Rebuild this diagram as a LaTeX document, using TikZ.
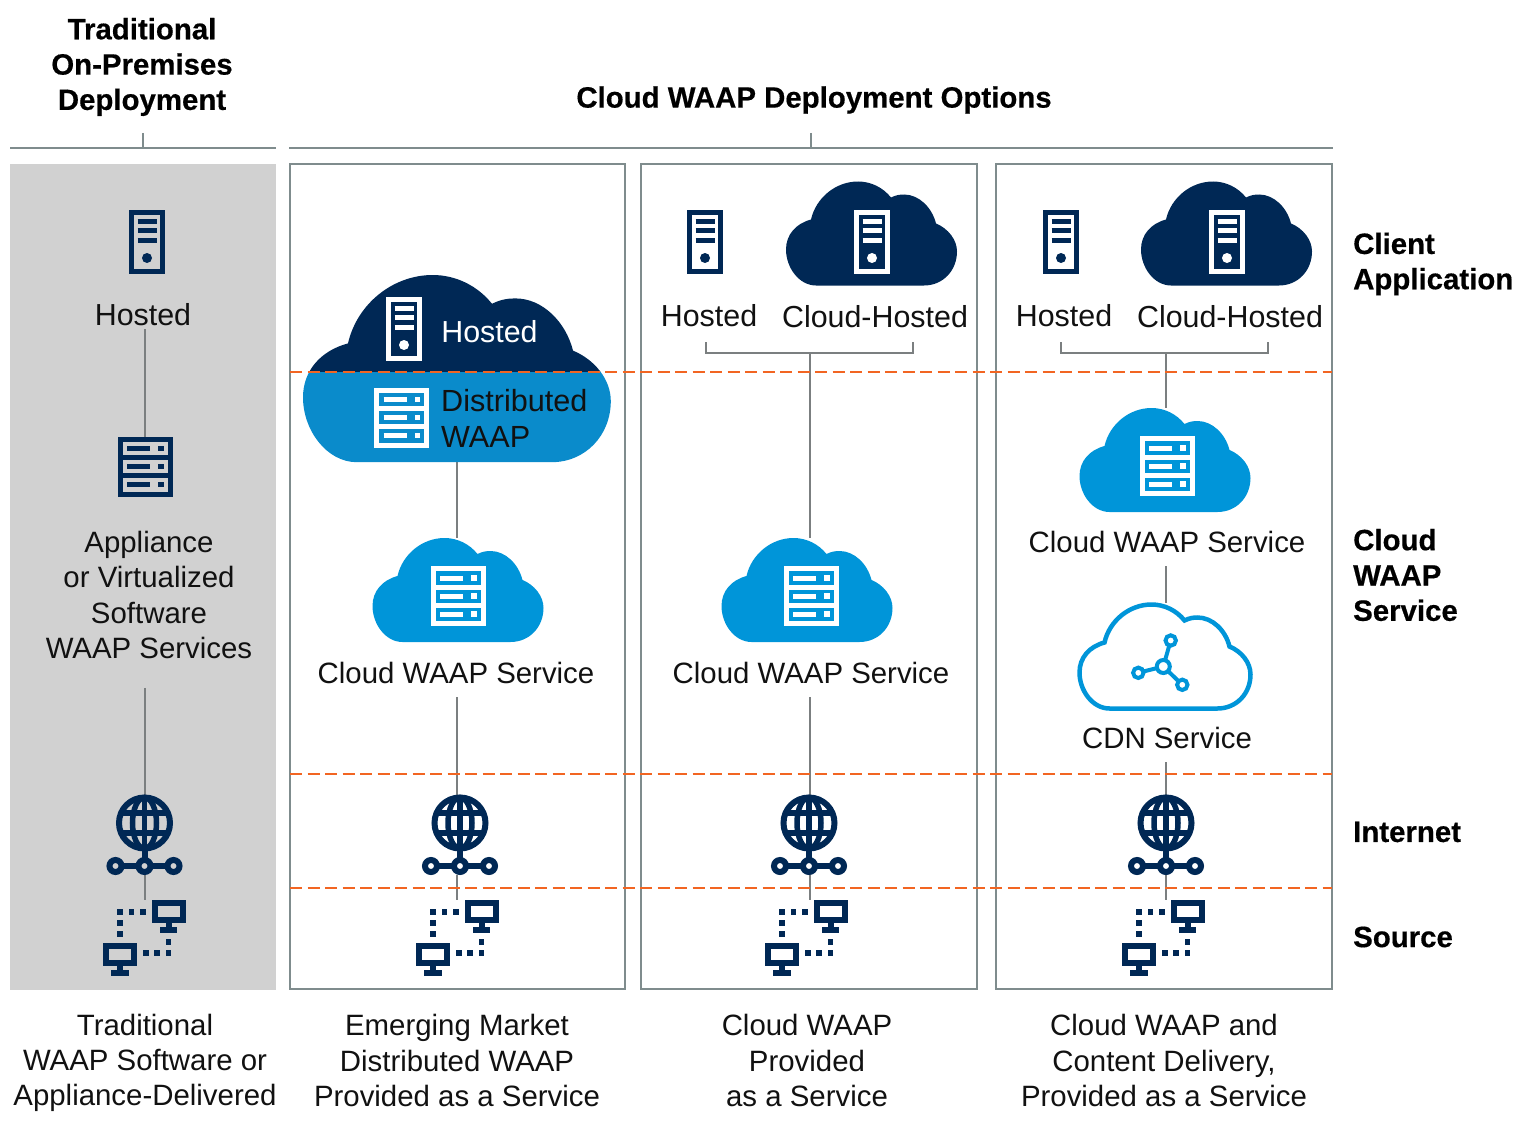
\documentclass[tikz,border=0pt]{standalone}
\usepackage{fontspec}
\setmainfont{Liberation Sans}
\newfontfamily\headfont{Liberation Sans Bold}[FakeBold=0.5]
\usetikzlibrary{positioning}

\definecolor{navycol}{HTML}{002855}
\definecolor{bluecol}{HTML}{0095D9}
\definecolor{distcol}{HTML}{0A8BCB}
\definecolor{boxgray}{HTML}{D1D1D1}
\definecolor{linegray}{HTML}{7F8C8D}
\definecolor{conngray}{HTML}{7B7F80}
\definecolor{dashcol}{HTML}{F26522}
\definecolor{textcol}{HTML}{111111}

\newcommand{\cloudshape}{(30,104) .. controls (13,104) and (0,86) .. (0,68) .. controls (0,53) and (10,42) .. (25,38) .. controls (30,16) and (50,0) .. (72,0) .. controls (85,0) and (97,6) .. (105,16) .. controls (110,13.5) and (114,13) .. (118,13) .. controls (133,13) and (146,26) .. (150,42) .. controls (162,47) and (171,58) .. (171,70) .. controls (171,89) and (157,104) .. (138,104) -- cycle}

\tikzset{
  lbl/.style={font=\fontsize{29.4}{35.3}\selectfont, text=textcol, anchor=base, inner xsep=0pt, inner ysep=14pt},
  lblwide/.style={lbl, font=\fontsize{30.4}{35.3}\selectfont},
  captxt/.style={font=\fontsize{29.4}{35.3}\selectfont, text=textcol, align=center, inner sep=0pt},
  headtxt/.style={font=\headfont\fontsize{29.4}{35.3}\selectfont, text=black, align=center, inner sep=0pt},
  sidetxt/.style={headtxt, align=left, anchor=west},
  panelbox/.style={draw=linegray, line width=2.5pt},
  toprule/.style={draw=linegray, line width=2.5pt},
  conn/.style={draw=conngray, line width=2.5pt},
  levelline/.style={draw=dashcol, line width=2.8pt, dash pattern=on 12pt off 5.5pt},
  iconbox/.style={inner sep=0pt, outer sep=0pt},
  pics/towerpic/.style={code={
    \draw[#1, line width=5pt] (-15.8,-29.8) rectangle (15.8,29.8);
    \foreach \y in {-21,-11.5,-2} \draw[#1, line width=5pt] (-9.5,\y) -- (9.5,\y);
    \fill[#1] (0,16) circle (5);
  }},
  pics/rackpic/.style={code={
    \draw[#1, line width=5pt] (-25,-27.5) rectangle (25,27.5);
    \draw[#1, line width=5pt] (-25,-9) -- (25,-9) (-25,9) -- (25,9);
    \foreach \y in {-18,0,18} {
      \draw[#1, line width=5pt] (-18,\y) -- (5,\y);
      \fill[#1] (13,\y-2.8) rectangle ++(5.6,5.6);
    }
  }},
  pics/globepic/.style={code={
    \draw[navycol, line width=6pt] (0,-12) circle (25.5);
    \draw[navycol, line width=5.5pt] (0,-12) ellipse [x radius=12, y radius=25.5];
    \draw[navycol, line width=5.5pt] (0,-38) -- (0,14) (-23.5,-22) -- (23.5,-22) (-23.5,-2) -- (23.5,-2);
    \draw[navycol, line width=6pt] (0,14) -- (0,25) (-23,31) -- (-6,31) (6,31) -- (23,31);
    \foreach \x in {-29,0,29} \draw[navycol, line width=6pt] (\x,31) circle (6);
  }},
  pics/sourcepic/.style={code={
    \draw[navycol, line width=6pt] (10,-36) rectangle (38,-19);
    \draw[navycol, line width=6pt] (24,-16) -- (24,-10) (15,-9) -- (32,-9);
    \draw[navycol, line width=6pt] (-39,7) rectangle (-11,24);
    \draw[navycol, line width=6pt] (-25,27) -- (-25,33) (-34,34) -- (-16,34);
    \foreach \p/\q in {-25/-27.3,-13.7/-27.3,-2.3/-27.3,-25/-16,-25/-5,0.7/14,12/14,23.3/14,23.3/2.7}
      \fill[navycol] (\p-2.8,\q-2.8) rectangle ++(5.6,5.6);
  }},
  pics/cloudpic/.style={code={
    \fill[#1, shift={(-85.5,-52)}] \cloudshape;
  }},
  pics/cdnpic/.style={code={
    \draw[bluecol, line width=4.5pt, shift={(-85.5,-52)}] \cloudshape;
    \draw[bluecol, line width=4pt] (-1.7,10) -- (5.7,-16) (-1.7,10) -- (-26.7,16.3) (-1.7,10) -- (17.3,28.3);
    \foreach \x/\y in {5.7/-16,-26.7/16.3,17.3/28.3} \draw[bluecol, line width=4pt, fill=white] (\x,\y) circle (5.2);
    \draw[bluecol, line width=4pt, fill=white] (-1.7,10) circle (6.5);
  }}
}

\begin{document}
\begin{tikzpicture}[x=1pt,y=-1pt]
\useasboundingbox (0,0) rectangle (1527,1121);

% panels
\fill[boxgray] (10,164) rectangle (276,990);
\draw[panelbox] (290,164) rectangle (625,989);
\draw[panelbox] (641,164) rectangle (977,989);
\draw[panelbox] (996,164) rectangle (1332,989);

% top rules
\draw[toprule] (10,148) -- (276,148);
\draw[toprule] (143,133) -- (143,148);
\draw[toprule] (289,148) -- (1333,148);
\draw[toprule] (811,133) -- (811,148);

\node[headtxt] (titleOnprem) at (142,67) {Traditional\\On-Premises\\Deployment};
\node[headtxt] (titleCloud) at (814,100) {Cloud WAAP Deployment Options};

% column axes
\coordinate (axisA) at (145,0);
\coordinate (axisB) at (457,0);
\coordinate (axisC) at (810,0);
\coordinate (axisD) at (1166,0);

% first column
\node[iconbox, minimum width=36pt, minimum height=64pt] (towerA) at (147,242) {};
\node[lblwide, inner ysep=4pt] (hostedA) at (143,325) {Hosted};
\node[iconbox, minimum width=54pt, minimum height=60pt] (rackA) at (145,466.5) {};
\node[captxt, inner ysep=29pt] (applianceA) at (149,595) {Appliance\\or Virtualized\\Software\\WAAP Services};
\node[iconbox, minimum width=74pt, minimum height=80pt] (globeA) at (144.5,835) {};
\node[iconbox, minimum width=84pt, minimum height=78pt] (sourceA) at (145,939) {};

\draw[conn] (hostedA.south -| axisA) -- (rackA.north -| axisA);
\draw[conn] (applianceA.south -| axisA) -- (globeA.north -| axisA);
\draw[conn] (globeA.south -| axisA) -- (sourceA.north -| axisA);

\pic at (towerA) {towerpic=navycol};
\pic at (rackA) {rackpic=navycol};
\pic at (globeA) {globepic};
\pic at (sourceA) {sourcepic};

% second column
\node[iconbox, minimum width=307pt, minimum height=187pt] (cloudDist) at (456.5,368.5) {};
\node[iconbox, minimum width=171pt, minimum height=104pt] (cloudB) at (458,590) {};
\node[lbl] (serviceB) at (456,683) {Cloud WAAP Service};
\node[iconbox, minimum width=74pt, minimum height=80pt] (globeB) at (460,835) {};
\node[iconbox, minimum width=84pt, minimum height=78pt] (sourceB) at (458,939) {};

\draw[conn] (cloudDist.south -| axisB) -- (cloudB.north -| axisB);
\draw[conn] (serviceB.south -| axisB) -- (globeB.north -| axisB);
\draw[conn] (globeB.south -| axisB) -- (sourceB.north -| axisB);

\begin{scope}[shift={(303,275)},scale=1.8]
\clip \cloudshape;
\fill[navycol] (0,0) rectangle (172,54);
\fill[distcol] (0,54) rectangle (172,105);
\end{scope}
\pic at (404,329) {towerpic=white};
\pic at (401.5,417.5) {rackpic=white};
\node[lblwide, text=white] (hostedDist) at (489.5,342) {Hosted};
\node[captxt, font=\fontsize{30.6}{35.3}\selectfont, align=left, anchor=west] (waapDist) at (441,418.5) {Distributed\\WAAP};
\pic at (cloudB) {cloudpic=bluecol};
\pic at (458,596) {rackpic=white};
\pic at (globeB) {globepic};
\pic at (sourceB) {sourcepic};

% third column
\node[iconbox, minimum width=36pt, minimum height=64pt] (towerC) at (705,242) {};
\node[iconbox, minimum width=171pt, minimum height=105pt] (cloudHostC) at (871.5,233.5) {};
\node[lblwide] (hostedC) at (709,326) {Hosted};
\node[lblwide] (cloudHostedC) at (875,327) {Cloud-Hosted};
\coordinate (brkC) at (810,353);
\node[iconbox, minimum width=171pt, minimum height=104pt] (cloudC) at (807,590) {};
\node[lbl] (serviceC) at (811,683) {Cloud WAAP Service};
\node[iconbox, minimum width=74pt, minimum height=80pt] (globeC) at (809,835) {};
\node[iconbox, minimum width=84pt, minimum height=78pt] (sourceC) at (807,939) {};

\draw[conn] (706,342) |- (brkC) -| (913,342);
\draw[conn] (brkC) -- (cloudC.north -| axisC);
\draw[conn] (serviceC.south -| axisC) -- (globeC.north -| axisC);
\draw[conn] (globeC.south -| axisC) -- (sourceC.north -| axisC);

\pic at (towerC) {towerpic=navycol};
\pic at (cloudHostC) {cloudpic=navycol};
\pic at (872,242) {towerpic=white};
\pic at (cloudC) {cloudpic=bluecol};
\pic at (811,596) {rackpic=white};
\pic at (globeC) {globepic};
\pic at (sourceC) {sourcepic};

% fourth column
\node[iconbox, minimum width=36pt, minimum height=64pt] (towerD) at (1061,242) {};
\node[iconbox, minimum width=171pt, minimum height=105pt] (cloudHostD) at (1226.5,233.5) {};
\node[lblwide] (hostedD) at (1064,326) {Hosted};
\node[lblwide] (cloudHostedD) at (1230,327) {Cloud-Hosted};
\coordinate (brkD) at (1166,353);
\node[iconbox, minimum width=171pt, minimum height=104pt] (cloudD) at (1165,460) {};
\node[lbl] (serviceD) at (1167,552) {Cloud WAAP Service};
\node[iconbox, minimum width=175pt, minimum height=108pt] (cdnD) at (1165,656.5) {};
\node[lbl] (cdnLabel) at (1167,748) {CDN Service};
\node[iconbox, minimum width=74pt, minimum height=80pt] (globeD) at (1166,835) {};
\node[iconbox, minimum width=84pt, minimum height=78pt] (sourceD) at (1164,939) {};

\draw[conn] (1061,342) |- (brkD) -| (1268,342);
\draw[conn] (brkD) -- (cloudD.north -| axisD);
\draw[conn] (serviceD.south -| axisD) -- (cdnD.north -| axisD);
\draw[conn] (cdnLabel.south -| axisD) -- (globeD.north -| axisD);
\draw[conn] (globeD.south -| axisD) -- (sourceD.north -| axisD);

\pic at (towerD) {towerpic=navycol};
\pic at (cloudHostD) {cloudpic=navycol};
\pic at (1227,242) {towerpic=white};
\pic at (cloudD) {cloudpic=bluecol};
\pic at (1167,466) {rackpic=white};
\pic at (cdnD) {cdnpic};
\pic at (globeD) {globepic};
\pic at (sourceD) {sourcepic};

% levels
\draw[levelline] (290,372) -- (1332,372);
\draw[levelline] (290,774) -- (1332,774);
\draw[levelline] (290,888) -- (1332,888);

% right labels
\node[sidetxt] (sideClient) at (1353,264) {Client\\Application};
\node[sidetxt] (sideCloud) at (1353,575) {Cloud\\WAAP\\Service};
\node[sidetxt] (sideInternet) at (1353,832) {Internet};
\node[sidetxt] (sideSource) at (1353,937) {Source};

% captions
\node[captxt] (capA) at (145,1063) {Traditional\\WAAP Software or\\Appliance-Delivered};
\node[captxt] (capB) at (457,1060.5) {Emerging Market\\Distributed WAAP\\Provided as a Service};
\node[captxt] (capC) at (807,1060.5) {Cloud WAAP\\Provided\\as a Service};
\node[captxt] (capD) at (1164,1060.5) {Cloud WAAP and\\Content Delivery,\\Provided as a Service};

\end{tikzpicture}
\end{document}
